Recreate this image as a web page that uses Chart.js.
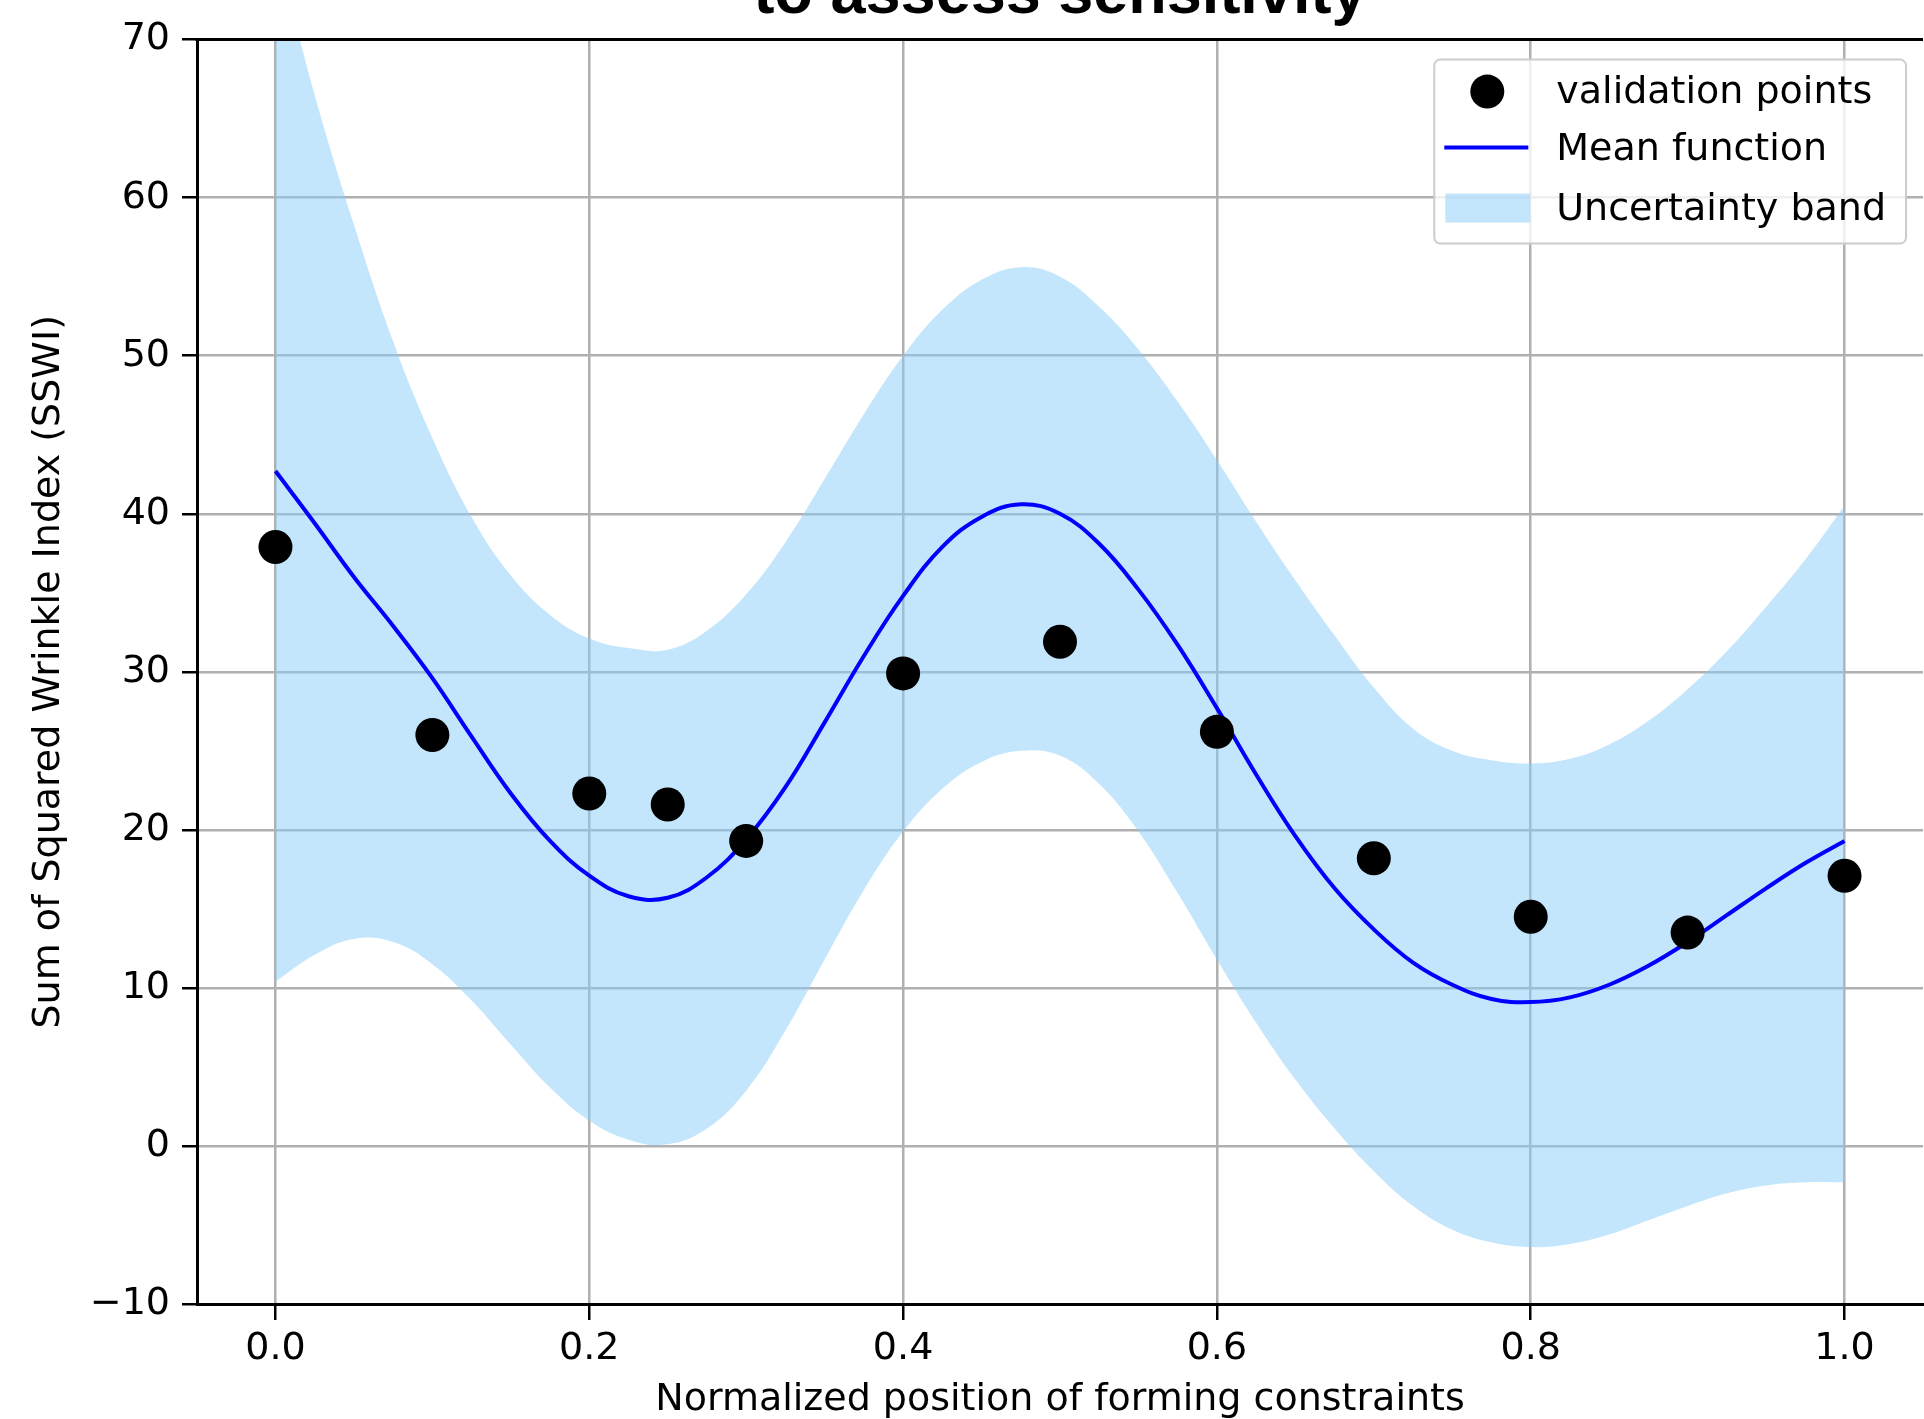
<!DOCTYPE html>
<html>
<head>
<meta charset="utf-8">
<title>SSWI sensitivity</title>
<script src="https://cdn.jsdelivr.net/npm/chart.js@4.4.0/dist/chart.umd.min.js"></script>
<style>
  html, body { margin: 0; padding: 0; background: #fff; overflow: hidden; width: 1924px; height: 1419px; }
  #wrap { position: relative; width: 1924px; height: 1419px; overflow: hidden; }
  #sswi-chart { position: absolute; left: 0; top: -80px; }
</style>
</head>
<body>
<div id="wrap"><canvas id="sswi-chart" width="1940" height="1520"></canvas></div>
<script>
var xTicks = [0, 0.2, 0.4, 0.6, 0.8, 1.0];
var xTickLabels = ["0.0", "0.2", "0.4", "0.6", "0.8", "1.0"];
var yTicks = [-10, 0, 10, 20, 30, 40, 50, 60, 70];
var yTickLabels = ["\u221210", "0", "10", "20", "30", "40", "50", "60", "70"];

// validation points
var validationX = [0.0, 0.1, 0.2, 0.25, 0.3, 0.4, 0.5, 0.6, 0.7, 0.8, 0.9, 1.0];
var validationY = [37.9, 26.0, 22.3, 21.6, 19.3, 29.9, 31.9, 26.2, 18.2, 14.5, 13.5, 17.1];

// mean function and band, sampled every 0.025
var curveX = [0, 0.025, 0.05, 0.075, 0.1, 0.125, 0.15, 0.175, 0.2, 0.225,
              0.25, 0.275, 0.3, 0.325, 0.35, 0.375, 0.4, 0.425, 0.45, 0.475,
              0.5, 0.525, 0.55, 0.575, 0.6, 0.625, 0.65, 0.675, 0.7, 0.725,
              0.75, 0.775, 0.8, 0.825, 0.85, 0.875, 0.9, 0.925, 0.95, 0.975, 1.0];
var meanValues = [42.7, 39.4, 36.0, 32.9, 29.6, 25.9, 22.3, 19.3, 17.1, 15.8,
                  15.7, 17.0, 19.4, 22.7, 26.8, 31.0, 34.8, 37.9, 39.8, 40.6,
                  40.0, 38.1, 35.2, 31.7, 27.7, 23.5, 19.6, 16.3, 13.7, 11.6,
                  10.2, 9.3, 9.1, 9.4, 10.2, 11.4, 12.9, 14.6, 16.3, 17.9, 19.3];
var upperValues = [76.0, 66.5, 58.3, 50.9, 44.8, 39.8, 36.1, 33.6, 32.1, 31.5,
                   31.4, 32.6, 34.9, 38.2, 42.2, 46.3, 50.0, 52.9, 54.8, 55.6,
                   55.0, 53.1, 50.4, 47.1, 43.4, 39.5, 35.8, 32.3, 29.0, 26.4,
                   25.0, 24.4, 24.2, 24.5, 25.4, 26.9, 28.9, 31.3, 34.1, 37.1, 40.5];
var lowerValues = [10.4, 12.1, 13.1, 12.9, 11.5, 9.2, 6.4, 3.7, 1.6, 0.4,
                   0.1, 1.1, 3.5, 7.3, 11.8, 16.2, 19.9, 22.6, 24.3, 25.0,
                   24.7, 22.9, 19.9, 16.0, 11.8, 7.8, 4.2, 1.1, -1.6, -3.8,
                   -5.3, -6.1, -6.4, -6.2, -5.6, -4.7, -3.8, -3.0, -2.5, -2.3, -2.3];

function toPoints(xs, ys) {
    return xs.map(function(x, i) { return {x: x, y: ys[i]}; });
}

var textFont = "'DejaVu Sans', sans-serif";

// matplotlib-like legend box in the upper right and the top spine
var frameAndLegend = {
    id: 'frameAndLegend',
    afterDraw: function(chart) {
        var ctx = chart.ctx;
        var area = chart.chartArea;
        var sets = chart.data.datasets;

        ctx.save();
        ctx.strokeStyle = '#000';
        ctx.lineWidth = 3;
        ctx.beginPath();
        ctx.moveTo(area.left - 1.5, area.top);
        ctx.lineTo(area.right, area.top);
        ctx.stroke();

        ctx.font = '38px ' + textFont;
        var items = [sets[0], sets[1], sets[2]];
        var maxText = 0;
        items.forEach(function(d) { maxText = Math.max(maxText, ctx.measureText(d.label).width); });
        var w = 122 + maxText + 20;
        var h = 184;
        var left = area.right - 17 - w;
        var top = area.top + 20;

        ctx.beginPath();
        ctx.roundRect(left, top, w, h, 6);
        ctx.fillStyle = 'rgba(255,255,255,0.8)';
        ctx.fill();
        ctx.strokeStyle = '#cccccc';
        ctx.lineWidth = 2;
        ctx.stroke();

        var rows = [top + 34, top + 91, top + 151];
        // circle marker
        ctx.fillStyle = sets[0].backgroundColor;
        ctx.beginPath();
        ctx.arc(left + 53, rows[0] - 2, 17, 0, Math.PI * 2);
        ctx.fill();
        // mean line
        ctx.strokeStyle = sets[1].borderColor;
        ctx.lineWidth = sets[1].borderWidth;
        ctx.beginPath();
        ctx.moveTo(left + 10, rows[1] - 3);
        ctx.lineTo(left + 94, rows[1] - 3);
        ctx.stroke();
        // band patch
        ctx.fillStyle = sets[2].backgroundColor;
        ctx.fillRect(left + 11, rows[2] - 17, 85, 29);

        ctx.fillStyle = '#000';
        ctx.textBaseline = 'middle';
        ctx.textAlign = 'left';
        items.forEach(function(d, i) { ctx.fillText(d.label, left + 122, rows[i]); });
        ctx.restore();
    }
};

var ctx = document.getElementById('sswi-chart').getContext('2d');
var myChart = new Chart(ctx, {
    type: 'scatter',
    data: {
        datasets: [{
            label: 'validation points',
            data: toPoints(validationX, validationY),
            backgroundColor: '#000000',
            borderWidth: 0,
            pointRadius: 17,
            pointHoverRadius: 17
        }, {
            type: 'line',
            label: 'Mean function',
            data: toPoints(curveX, meanValues),
            borderColor: '#0000ff',
            borderWidth: 4,
            pointRadius: 0,
            tension: 0.4,
            fill: false
        }, {
            type: 'line',
            label: 'Uncertainty band',
            data: toPoints(curveX, upperValues),
            borderWidth: 0,
            borderColor: 'rgba(0,0,0,0)',
            backgroundColor: 'rgba(135,206,250,0.5)',
            pointRadius: 0,
            tension: 0.4,
            fill: '+1'
        }, {
            type: 'line',
            label: '',
            data: toPoints(curveX, lowerValues),
            borderWidth: 0,
            borderColor: 'rgba(0,0,0,0)',
            pointRadius: 0,
            tension: 0.4,
            fill: false
        }]
    },
    options: {
        responsive: false,
        devicePixelRatio: 1,
        animation: false,
        layout: { padding: { left: 0, right: 14, top: 0, bottom: 17 } },
        plugins: {
            legend: { display: false },
            tooltip: { enabled: false },
            title: {
                display: true,
                text: 'to assess sensitivity',
                fullSize: false,
                color: '#000',
                font: { family: "'Liberation Sans', Arial, sans-serif", size: 63, weight: 'bold' },
                padding: { top: 38, bottom: 6 }
            }
        },
        scales: {
            x: {
                type: 'linear',
                min: -0.05,
                max: 1.05,
                afterBuildTicks: function(scale) {
                    scale.ticks = xTicks.map(function(v) { return {value: v}; });
                },
                afterFit: function(scale) { scale.height = 119; },
                ticks: {
                    color: '#000',
                    padding: 6,
                    font: { family: textFont, size: 38 },
                    maxRotation: 0,
                    callback: function(value, index) { return xTickLabels[index]; }
                },
                grid: {
                    color: '#b0b0b0',
                    lineWidth: 2.5,
                    tickColor: '#000',
                    tickWidth: 2.5,
                    tickLength: 16
                },
                border: { display: true, color: '#000', width: 3 },
                title: {
                    display: true,
                    text: 'Normalized position of forming constraints',
                    color: '#000',
                    font: { family: textFont, size: 38 },
                    padding: { top: 0, bottom: 0 }
                }
            },
            y: {
                type: 'linear',
                min: -10,
                max: 70,
                afterBuildTicks: function(scale) {
                    scale.ticks = yTicks.map(function(v) { return {value: v}; });
                },
                afterFit: function(scale) { scale.width = 197; },
                ticks: {
                    color: '#000',
                    padding: 12,
                    font: { family: textFont, size: 38 },
                    callback: function(value, index) { return yTickLabels[index]; }
                },
                grid: {
                    color: '#b0b0b0',
                    lineWidth: 2.5,
                    tickColor: '#000',
                    tickWidth: 2.5,
                    tickLength: 15
                },
                border: { display: true, color: '#000', width: 3 },
                title: {
                    display: true,
                    text: 'Sum of Squared Wrinkle Index (SSWI)',
                    color: '#000',
                    font: { family: textFont, size: 38 },
                    padding: { top: 26, bottom: 0 }
                }
            }
        }
    },
    plugins: [frameAndLegend]
});
</script>
</body>
</html>
